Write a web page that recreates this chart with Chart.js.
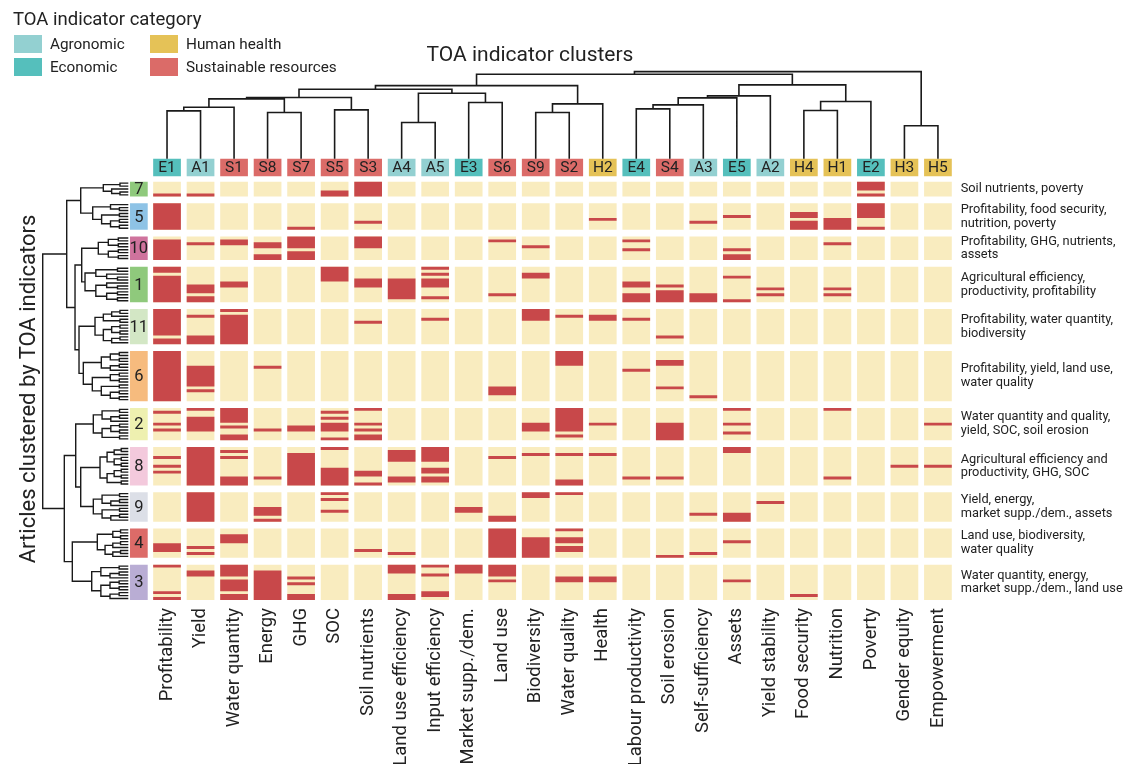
<!DOCTYPE html>
<html lang="en">
<head>
<meta charset="utf-8">
<title>TOA indicator clusters</title>
<script src="https://cdn.jsdelivr.net/npm/chart.js@4.4.0/dist/chart.umd.min.js"></script>
<style>
  html, body { margin: 0; padding: 0; background: #fff; }
  body { font-family: Roboto, sans-serif; color: #222; }
  #wrap { position: relative; width: 1124px; height: 764px; overflow: hidden; }
  #chart { position: absolute; left: 0; top: 0; }
  #legendTitle { position: absolute; left: 13px; top: 7px; font-size: 18.5px; line-height: 24px; }
  #legend { position: absolute; left: 14px; top: 35px; display: grid; grid-template-columns: 136px 200px; row-gap: 5px; }
  .item { display: flex; align-items: center; height: 18px; font-size: 15.3px; }
  .item span { display: inline-block; width: 28px; height: 18px; margin-right: 8px; }
  #title { position: absolute; left: 330px; top: 41px; width: 400px; text-align: center; font-size: 21px; line-height: 26px; }
  #ytitle { position: absolute; left: -172px; top: 376px; width: 400px; text-align: center; font-size: 22px; line-height: 26px; transform: rotate(-90deg); }
</style>
</head>
<body>
<div id="wrap">
  <canvas id="chart" width="1124" height="764"></canvas>
  <div id="legendTitle">TOA indicator category</div>
  <div id="legend"></div>
  <div id="title">TOA indicator clusters</div>
  <div id="ytitle">Articles clustered by TOA indicators</div>
</div>
<script>
// indicators (columns), in dendrogram order
const colCodes = ['E1', 'A1', 'S1', 'S8', 'S7', 'S5', 'S3', 'A4', 'A5', 'E3', 'S6', 'S9',
                  'S2', 'H2', 'E4', 'S4', 'A3', 'E5', 'A2', 'H4', 'H1', 'E2', 'H3', 'H5'];
const colNames = ['Profitability', 'Yield', 'Water quantity', 'Energy', 'GHG', 'SOC', 'Soil nutrients',
                  'Land use efficiency', 'Input efficiency', 'Market supp./dem.', 'Land use', 'Biodiversity',
                  'Water quality', 'Health', 'Labour productivity', 'Soil erosion', 'Self-sufficiency', 'Assets',
                  'Yield stability', 'Food security', 'Nutrition', 'Poverty', 'Gender equity', 'Empowerment'];

const categoryNames = ['Agronomic', 'Human health', 'Economic', 'Sustainable resources'];
const categoryLetters = ['A', 'H', 'E', 'S'];
const categoryColors = ['#93d0d1', '#e5c257', '#55bfbc', '#db6b68'];

// article clusters (rows), top to bottom
const clusterIds = ['7', '5', '10', '1', '11', '6', '2', '8', '9', '4', '3'];
const clusterSizes = [5, 9, 8, 12, 12, 17, 11, 13, 10, 10, 12];
const clusterColors = ['#8fc97c', '#8ec3e6', '#cf739d', '#8fc97c', '#d3e7c5', '#f6bb7e',
                       '#eef0b0', '#f3c9dc', '#dcdfe7', '#dc6b68', '#b9add4'];
const clusterLabels = [
  ['Soil nutrients, poverty'],
  ['Profitability, food security,', 'nutrition, poverty'],
  ['Profitability, GHG, nutrients,', 'assets'],
  ['Agricultural efficiency,', 'productivity, profitability'],
  ['Profitability, water quantity,', 'biodiversity'],
  ['Profitability, yield, land use,', 'water quality'],
  ['Water quantity and quality,', 'yield, SOC, soil erosion'],
  ['Agricultural efficiency and', 'productivity, GHG, SOC'],
  ['Yield, energy,', 'market supp./dem., assets'],
  ['Land use, biodiversity,', 'water quality'],
  ['Water quantity, energy,', 'market supp./dem., land use']
];

// indicator present in article: code:rows (row index inside the cluster)
const clusterMarks = [
  'E1:4 A1:4 S5:3-4 S3:0-4 E2:0-2,4',
  'E1:0-8 S7:8 S3:6 H2:5 A3:6 E5:4 H4:3-4,6-8 H1:5-8 E2:0-4,8',
  'E1:1-7 A1:2 S1:1-2 S8:2-3,6-7 S7:0-3,5-7 S3:0-3 S6:1 S9:3 E4:1,4 E5:4,6-7 H1:2',
  'E1:0-1,3-11 A1:6-8,10-11 S1:5-6 S5:0-4 S3:4-6 A4:4-10 A5:0,2,4-6,10 S6:9 S9:2-3 E4:5-6,9-11 S4:6,8-11 A3:9-11 E5:3,11 A2:7,9 H1:7,9',
  'E1:0-8,10-11 A1:2,9-11 S1:0,2-11 S3:4 A5:3 S9:0-3 S2:2 H2:2-3 E4:3 S4:9',
  'E1:0-16 A1:5-11,13 S8:5 S6:12-14 S2:0-4 E4:6 S4:3-4,12 A3:15',
  'E1:1,5,7 A1:0,3-7 S1:0-4,6,9-10 S8:7 S7:6-7 S5:1,3,5-7,10 S3:0,5,7,9-10 S9:5-7 S2:0-7,9 H2:5 S4:5-10 E5:0,5,8 H1:0 H5:5',
  'E1:3,6,8 A1:0-12 S1:1,3,10-12 S8:10 S7:2-12 S5:0,7-12 S3:8-9,12 A4:1-4,10-11 A5:0-4,7-8,10-11 S6:3 S9:2 S2:2,11-12 H2:2 E4:10 S4:10 E5:0-1 H1:10 H3:6 H5:6',
  'A1:0-9 S8:5-7,9 S5:0,2,6 E3:5-6 S6:8-9 S9:0-1 S2:0 A3:7 E5:7-9 A2:3',
  'E1:5-7 A1:6,8 S1:2-4 S3:7 A4:8 S6:0-9 S9:3-9 S2:0,3-4,6-7 S4:9 A3:8 E5:4',
  'E1:0,9,11 A1:2-3 S1:0-3,5-8,10-11 S8:2-11 S7:4,6,10-11 A4:0-2,10-11 A5:0,3,9-10 E3:0-2 S6:0-3,5 S2:4-5 H2:4-5 E5:5 H4:10'
];

// column dendrogram, linkage style: [a, b, height], new node = 24 + row
const colMerges = [
  [0, 1, 144], [24, 2, 155], [3, 4, 139], [25, 26, 180], [5, 6, 147], [27, 28, 184],
  [7, 8, 109], [9, 10, 169], [30, 31, 197], [29, 32, 209], [11, 12, 139], [34, 13, 165],
  [33, 35, 220], [14, 15, 150], [37, 16, 162], [38, 17, 183], [39, 18, 189], [19, 20, 145],
  [41, 21, 172], [40, 42, 222], [36, 43, 254], [22, 23, 99], [44, 45, 262]
];

// row dendrogram: shape inside each cluster ('.' = article), cluster root distance, then merges
const clusterTrees = [
  '((..)(.(..)))',
  '((.(..))((..)((..)(..))))',
  '(((..)(..))((..)(..)))',
  '(((..)(.(..)))((.(..))((..)(..))))',
  '((((..).)(..))(((..)(..))((..).)))',
  '((((..)(..))((..).))(((..)(..))((..)((..)(..)))))',
  '(((..)((..).))(((..)(..))(..)))',
  '((((..).)((..)(..)))(((..)(..))(..)))',
  '(((..)((..).))((..)((..).)))',
  '(((..)(..))(((..).)((..).)))',
  '(((..)((..).))(((..)(..))((..).)))'
];
const clusterDist = [25, 35.6, 30, 43.3, 33.3, 45, 35, 28.3, 35, 31, 36.6];
const clusterMerges = [
  [0, 1, 47.6], [2, 3, 46.6], [4, 5, 49.3], [12, 13, 53.3], [11, 14, 61.6],
  [7, 8, 47.6], [6, 16, 52.6], [9, 10, 56], [17, 18, 64], [15, 19, 85.6]
];

// ---- layout (x in column units, y in article-row units) ----
const X_MIN = -4.1, X_MAX = 23.5;
const Y_MIN = -39.6;
const GAP = 2.3;
const CODE_TOP = -7.8, CODE_BOTTOM = -1.8;
const TOP_K = 0.1128;
const LEAF_X = -1.155, LEFT_K = 0.02983;
const CLUSTER_BOX_X = -0.84;
const CELL = '#f9ecbf', MARK = '#c8484a', LINE = '#1a1a1a';

const clusterTop = [];
let acc = 0;
clusterSizes.forEach(n => { clusterTop.push(acc); acc += n + GAP; });
const Y_MAX = acc - GAP;
const clusterCenter = clusterSizes.map((n, c) => clusterTop[c] + n / 2);

function catColor(code) {
  return categoryColors[categoryLetters.indexOf(code[0])];
}

// legend
const legendEl = document.getElementById('legend');
categoryNames.forEach((name, i) => {
  const d = document.createElement('div');
  d.className = 'item';
  d.innerHTML = '<span style="background:' + categoryColors[i] + '"></span>' + name;
  legendEl.appendChild(d);
});

// heatmap cells
const cellData = [];
clusterSizes.forEach((n, c) => {
  colCodes.forEach((code, j) => cellData.push({x: j, y: [clusterTop[c], clusterTop[c] + n]}));
});
const markData = [];
clusterMarks.forEach((spec, c) => {
  spec.split(' ').forEach(item => {
    const parts = item.split(':');
    const j = colCodes.indexOf(parts[0]);
    parts[1].split(',').forEach(run => {
      const ab = run.split('-').map(Number);
      const a = ab[0], b = ab.length > 1 ? ab[1] : ab[0];
      markData.push({x: j, y: [clusterTop[c] + a, clusterTop[c] + b + 1]});
    });
  });
});

const codeData = colCodes.map((code, j) => ({x: j, y: [CODE_TOP, CODE_BOTTOM]}));
const clusterBoxData = clusterSizes.map((n, c) => ({x: CLUSTER_BOX_X, y: [clusterTop[c], clusterTop[c] + n]}));

const BREAK = {x: null, y: null};

// column dendrogram
const topPts = [];
const nx = colCodes.map((c, j) => j);
const ny = colCodes.map(() => CODE_TOP);
colMerges.forEach(m => {
  const a = m[0], b = m[1], y = CODE_TOP - m[2] * TOP_K;
  topPts.push({x: nx[a], y: ny[a]}, {x: nx[a], y: y}, {x: nx[b], y: y}, {x: nx[b], y: ny[b]}, BREAK);
  nx.push((nx[a] + nx[b]) / 2);
  ny.push(y);
});

// article dendrogram
const leftPts = [];
function lp(d, y) { return {x: LEAF_X - d * LEFT_K, y: y}; }

function parseTree(str) {
  let pos = 0;
  function node() {
    if (str[pos] === '.') { pos++; return {leaf: true}; }
    pos++;
    const kids = [];
    while (str[pos] !== ')') kids.push(node());
    pos++;
    return {kids: kids};
  }
  return node();
}

function level(n) {
  if (n.leaf) return 0;
  n.lv = 1 + Math.max.apply(null, n.kids.map(level));
  return n.lv;
}

const rowNodes = [];
clusterTrees.forEach((str, c) => {
  const tree = parseTree(str);
  const rootLv = level(tree);
  let row = 0;
  function place(n) {
    if (n.leaf) {
      n.d = 0;
      n.y = clusterTop[c] + row + 0.5;
      row++;
      return;
    }
    n.kids.forEach(place);
    n.d = clusterDist[c] * n.lv / rootLv;
    const first = n.kids[0], last = n.kids[n.kids.length - 1];
    n.y = (first.y + last.y) / 2;
    leftPts.push(lp(first.d, first.y), lp(n.d, first.y), lp(n.d, last.y), lp(last.d, last.y), BREAK);
  }
  place(tree);
  if (row !== clusterSizes[c]) console.log('cluster ' + clusterIds[c] + ' tree has ' + row + ' leaves');
  rowNodes.push({d: tree.d, y: tree.y});
});
clusterMerges.forEach(m => {
  const a = rowNodes[m[0]], b = rowNodes[m[1]];
  leftPts.push(lp(a.d, a.y), lp(m[2], a.y), lp(m[2], b.y), lp(b.d, b.y), BREAK);
  rowNodes.push({d: m[2], y: (a.y + b.y) / 2});
});

// draws the codes and cluster numbers inside their boxes
const boxText = {
  id: 'boxText',
  afterDatasetsDraw(chart) {
    const ctx = chart.ctx;
    ctx.save();
    ctx.fillStyle = '#222';
    ctx.textAlign = 'center';
    ctx.textBaseline = 'middle';
    ctx.font = '15.5px Roboto';
    chart.getDatasetMeta(2).data.forEach((el, i) => {
      ctx.fillText(colCodes[i], el.x, (el.y + el.base) / 2 + 1);
    });
    ctx.font = '16.5px Roboto';
    chart.getDatasetMeta(3).data.forEach((el, i) => {
      ctx.fillText(clusterIds[i], el.x, (el.y + el.base) / 2 + 1);
    });
    ctx.restore();
  }
};

Chart.defaults.font.family = 'Roboto';
Chart.defaults.color = '#222';

new Chart(document.getElementById('chart'), {
  type: 'bar',
  data: {
    datasets: [
      {data: cellData, backgroundColor: CELL, order: 3},
      {data: markData, backgroundColor: MARK, order: 2},
      {data: codeData, backgroundColor: colCodes.map(catColor), order: 1},
      {data: clusterBoxData, backgroundColor: clusterColors, xAxisID: 'xc', barPercentage: 0.528, order: 1},
      {type: 'line', data: topPts, borderColor: LINE, borderWidth: 1.6, pointRadius: 0, spanGaps: false, order: 0},
      {type: 'line', data: leftPts, borderColor: LINE, borderWidth: 1.4, pointRadius: 0, spanGaps: false, order: 0}
    ]
  },
  options: {
    responsive: false,
    animation: false,
    events: [],
    layout: {padding: {left: 29.6, top: 65, right: 0, bottom: 0}},
    datasets: {
      bar: {grouped: false, categoryPercentage: 1, barPercentage: 0.827, borderWidth: 0}
    },
    plugins: {legend: {display: false}, tooltip: {enabled: false}},
    scales: {
      x: {
        type: 'linear', min: X_MIN, max: X_MAX, offset: false,
        grid: {display: false, drawTicks: false}, border: {display: false},
        afterBuildTicks: s => { s.ticks = colNames.map((n, i) => ({value: i})); },
        afterFit: s => { s.height = 164; },
        ticks: {
          autoSkip: false, minRotation: 90, maxRotation: 90, padding: 8,
          font: {size: 18.5}, color: '#222',
          callback: v => colNames[v]
        }
      },
      xc: {
        type: 'linear', display: false, min: X_MIN, max: X_MAX, offset: false,
        afterBuildTicks: s => { s.ticks = [{value: 0}, {value: 1}]; }
      },
      y: {
        type: 'linear', display: false, reverse: true, min: Y_MIN, max: Y_MAX, beginAtZero: false
      },
      y2: {
        type: 'linear', position: 'right', reverse: true, min: Y_MIN, max: Y_MAX,
        grid: {display: false, drawTicks: false}, border: {display: false},
        afterBuildTicks: s => { s.ticks = clusterCenter.map(v => ({value: v})); },
        afterFit: s => { s.width = 169.3; },
        ticks: {
          autoSkip: false, padding: 6, color: '#222',
          font: {size: 12.8, lineHeight: 1.08},
          callback: (v, i) => clusterLabels[i]
        }
      }
    }
  },
  plugins: [boxText]
});
</script>
</body>
</html>
